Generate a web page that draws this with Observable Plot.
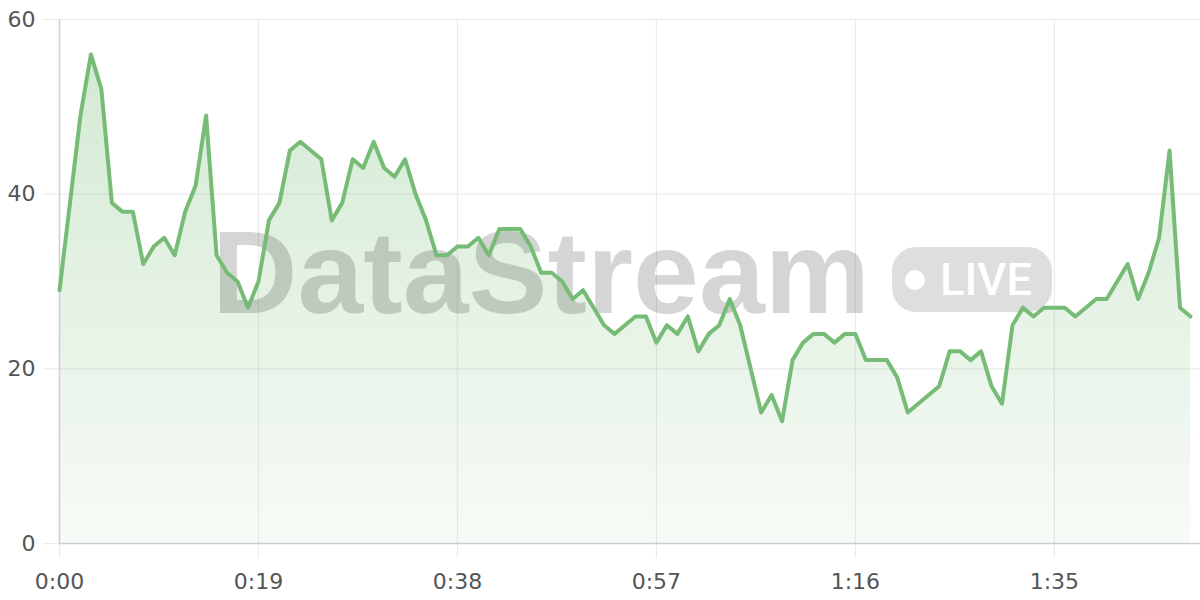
<!DOCTYPE html>
<html><head><meta charset="utf-8">
<script src="https://cdn.jsdelivr.net/npm/d3@7"></script>
<script src="https://cdn.jsdelivr.net/npm/@observablehq/plot@0.6"></script>
<style>body{margin:0;background:#fff} #chart{width:1200px;height:600px}</style>
</head><body><div id="chart"></div>
<script>
// Values per second, 0:00 .. 1:48
const values = [29,39,49,56,52,39,38,38,32,34,35,33,38,41,49,33,31,30,27,30,
  37,39,45,46,45,44,37,39,44,43,46,43,42,44,40,37,33,33,34,34,
  35,33,36,36,36,34,31,31,30,28,29,27,25,24,25,26,26,23,25,24,
  26,22,24,25,28,25,20,15,17,14,21,23,24,24,23,24,24,21,21,21,
  19,15,16,17,18,22,22,21,22,18,16,25,27,26,27,27,27,26,27,28,
  28,30,32,28,31,35,45,27,26];
const seconds = values.map((_, i) => i);
const xTicks = [0, 19, 38, 57, 76, 95];
const yTicks = [0, 20, 40, 60];
const data = seconds.map((s, i) => ({s, v: values[i]}));
const fmt = s => `${Math.floor(s / 60)}:${String(s % 60).padStart(2, "0")}`;
const green = "#76bc76";

const defs = () => {
  const g = d3.create("svg:defs");
  const lg = g.append("linearGradient").attr("id", "areaGrad")
    .attr("x1", 0).attr("y1", 0).attr("x2", 0).attr("y2", 1);
  lg.append("stop").attr("offset", "0%").attr("stop-color", green).attr("stop-opacity", 0.32);
  lg.append("stop").attr("offset", "100%").attr("stop-color", green).attr("stop-opacity", 0.06);
  return g.node();
};

const watermark = (index, scales, channels, dims) => {
  const cx = (dims.marginLeft + dims.width - dims.marginRight) / 2;
  const cy = (dims.marginTop + dims.height - dims.marginBottom) / 2;
  const g = d3.create("svg:g").attr("pointer-events", "none").attr("text-anchor", "start");
  g.append("text").attr("x", cx - 412.5).attr("y", cy + 32).attr("text-anchor", "start")
    .attr("font-family", "Liberation Sans, Arial, sans-serif").attr("font-weight", "bold")
    .attr("font-size", 116).attr("textLength", 658).attr("lengthAdjust", "spacingAndGlyphs")
    .attr("fill", "#000").attr("fill-opacity", 0.165).text("DataStream");
  g.append("rect").attr("x", cx + 267.5).attr("y", cy - 34).attr("width", 160).attr("height", 65)
    .attr("rx", 24).attr("fill", "#000").attr("fill-opacity", 0.13);
  g.append("circle").attr("cx", cx + 290.5).attr("cy", cy - 1).attr("r", 10).attr("fill", "#fff");
  g.append("text").attr("x", cx + 315.5).attr("y", cy + 14).attr("text-anchor", "start")
    .attr("font-family", "Roboto, Liberation Sans, sans-serif").attr("font-weight", 500).attr("font-size", 45)
    .attr("textLength", 92).attr("lengthAdjust", "spacingAndGlyphs")
    .attr("fill", "#fff").text("LIVE");
  return g.node();
};

const chart = Plot.plot({
  width: 1200, height: 600,
  marginLeft: 59, marginRight: 10, marginTop: 19, marginBottom: 57,
  style: {fontFamily: "DejaVu Sans, sans-serif", fontSize: "22px", color: "#555", background: "white"},
  x: {domain: [0, 108], ticks: xTicks, tickFormat: fmt, tickSize: 0, tickPadding: 30, label: null},
  y: {domain: [0, 60], ticks: yTicks, tickSize: 0, tickPadding: 24, label: null},
  marks: [
    defs,
    Plot.ruleY(yTicks, {x1: -1.53, x2: 109, stroke: "#ebebeb", strokeWidth: 1.2}),
    Plot.ruleX(xTicks, {y1: -1.7, y2: 60, stroke: "#ebebeb", strokeWidth: 1.2}),
    Plot.areaY(data, {x: "s", y: "v", fill: "url(#areaGrad)"}),
    watermark,
    Plot.ruleX([0], {y1: 0, y2: 60, stroke: "#cfcfcf", strokeWidth: 1.5}),
    Plot.ruleY([0], {x1: 0, x2: 109, stroke: "#cfcfcf", strokeWidth: 1.5}),
    Plot.lineY(data, {x: "s", y: "v", stroke: green, strokeWidth: 4, strokeLinejoin: "round"})
  ]
});
document.getElementById("chart").appendChild(chart);
</script>
</body></html>
